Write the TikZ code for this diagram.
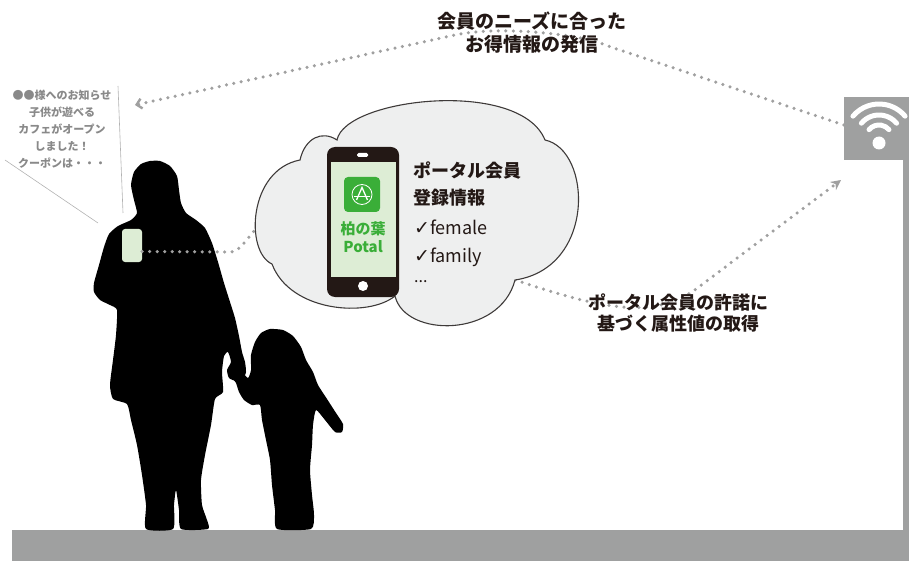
\documentclass[tikz,border=0pt]{standalone}
\usepackage{fontspec}
\setmainfont{Noto Sans CJK JP}
\newfontfamily\symfont{DejaVu Sans}
\usetikzlibrary{arrows.meta,positioning}

\definecolor{ink}{HTML}{231815}
\definecolor{dotgray}{HTML}{A0A0A0}
\definecolor{groundgray}{HTML}{9FA0A0}
\definecolor{cloudfill}{HTML}{EEEFEF}
\definecolor{cloudline}{HTML}{3E3A39}
\definecolor{screengreen}{HTML}{DDEDD5}
\definecolor{appgreen}{HTML}{3AAE38}
\definecolor{notegray}{HTML}{898989}

\begin{document}
\begin{tikzpicture}[x=1pt, y=-1pt,
    dots/.style={draw=dotgray, line width=3.5pt, line cap=round, dash pattern=on 0pt off 7.5pt},
    headline/.style={font=\bfseries\fontsize{19}{23}\selectfont, text=ink, align=center},
    info/.style={font=\bfseries\fontsize{18}{22}\selectfont, text=ink, anchor=west, inner sep=0pt},
    attr/.style={font=\fontsize{18}{22}\selectfont, text=ink, anchor=west, inner sep=0pt},
    apptext/.style={font=\bfseries\fontsize{15}{18}\selectfont, text=appgreen, inner sep=0pt},
    note/.style={font=\bfseries\fontsize{11}{17}\selectfont, text=notegray, align=center},
    wifiarc/.style={white, line width=5pt, line cap=round}
]
\useasboundingbox (0,0) rectangle (909,561);

% ground, pole and access point
\fill[groundgray] (12,530) rectangle (909,561);
\fill[groundgray] (903,150) rectangle (909,530);
\node[fill=groundgray, minimum width=65pt, minimum height=63pt, inner sep=0pt] (wifi) at (876.5,129) {};
\fill[white] (879,143) circle (6.5);
\foreach \r in {13,23,34}
  \draw[wifiarc] (879,138) ++(-140:\r) arc[start angle=-140, end angle=-40, radius=\r];

% speech bubble lines
\draw[black!30, line width=0.6pt] (118,86) -- (123,213);
\draw[black!30, line width=0.6pt] (5,160) -- (98,223);
\node[note] (notice) at (62,129) {●●様へのお知らせ\\子供が遊べる\\カフェがオープン\\しました！\\クーポンは・・・};

% mother
\fill[black] plot[smooth cycle, tension=0.35] coordinates {
  (150,161) (160,161) (170,166) (177,176) (179,190) (181,203) (186,213) (196,220)
  (205,228) (212,243) (218,262) (224,283) (230,302) (235,318) (239,336) (242,352)
  (245,362) (246,372) (243,379) (236,381) (229,378) (227,370) (231,362) (228,352)
  (224,356) (222,372) (223,392) (215,399) (211,425) (205,455) (201,480) (202,505)
  (207,520) (208,529) (181,529) (179,510) (176,490) (174,505) (173,529) (146,529)
  (146,505) (142,475) (137,445) (131,420) (127,404) (113,399) (110,385) (113,360)
  (116,335) (117,310) (110,305) (100,300) (94,292) (94,283) (99,265) (104,247)
  (109,234) (118,226) (131,220) (137,213) (134,200) (131,185) (134,172) (141,164)};
% child
\fill[black] plot[smooth cycle, tension=0.35] coordinates {
  (270,329) (283,330) (293,336) (301,347) (306,360) (313,372) (318,385) (327,399)
  (336,413) (343,424) (342,432) (335,432) (325,420) (316,410) (313,425) (312,445)
  (310,470) (312,495) (314,515) (311,529) (277,529) (275,510) (272,485) (270,460)
  (266,440) (262,420) (260,405) (252,405) (244,400) (239,392) (236,383) (232,377)
  (236,370) (242,372) (248,378) (251,370) (251,355) (255,342) (261,333)};
\node[fill=screengreen, rounded corners=3pt, minimum width=20pt, minimum height=33pt, inner sep=0pt] (handset) at (132,245.5) {};

% data flows
\coordinate (cloudL) at (259,226);
\coordinate (cloudR) at (515,280);
\coordinate (wifiin) at (841,180);
\coordinate (msgtip) at (135,105);
\draw[dots] ([yshift=-6pt]handset.east) -- (231,252) .. controls (240,252) and (248,236) .. (cloudL);
\draw[dots, -{Stealth[length=10pt, width=10pt]}] (cloudR) .. controls (600,308) and (655,322) .. (700,286) -- (wifiin);
\draw[dots, -{Straight Barb[length=5pt, width=10pt, line width=2.4pt]}] ([yshift=4pt]wifi.west) -- (605,45) .. controls (585,35) and (500,25) .. (455,35) -- (msgtip);

% thought cloud
\draw[cloudline, fill=cloudfill, line width=1.1pt]
  (300,160) .. controls (305,138) and (322,130) .. (337,140)
  .. controls (345,98) and (520,78) .. (545,140)
  .. controls (592,150) and (596,268) .. (515,280)
  .. controls (500,338) and (405,338) .. (395,296)
  .. controls (368,318) and (290,312) .. (272,264)
  .. controls (245,252) and (248,170) .. (300,160) -- cycle;

% smartphone
\fill[ink, rounded corners=8pt] (327,147) rectangle (399,297);
\fill[screengreen] (331,162) rectangle (396,277);
\fill[white, rounded corners=1.5pt] (357,153) rectangle (368,157);
\fill[white] (363,286) circle (5);
\fill[appgreen, rounded corners=4pt] (344,177) rectangle (380,212);
\draw[white, line width=0.8pt] (362,194.5) circle (10);
\draw[white, line width=1.3pt] (356.5,200) -- (362,187.5) -- (367.5,200);
\draw[white, line width=1pt] (354,197) -- (370,197);
\node[apptext] (appname) at (363,229) {柏の葉};
\node[apptext, below=4pt of appname] (appbrand) {Potal};

% member profile
\node[info] (member) at (413,170) {ポータル会員};
\node[info] (profile) at (413,198) {登録情報};
\node[attr] (gender) at (414,227) {{\symfont\fontsize{19}{19}\selectfont ✓}female};
\node[attr] (family) at (414,257) {{\symfont\fontsize{19}{19}\selectfont ✓}family};
\node[attr, font=\fontsize{16}{16}\selectfont] (more) at (414,282) {...};

% labels
\node[headline] (needs) at (532,33) {会員のニーズに合った\\お得情報の発信};
\node[headline, font=\bfseries\fontsize{18}{21}\selectfont] (consent) at (678,313) {ポータル会員の許諾に\\基づく属性値の取得};
\end{tikzpicture}
\end{document}
